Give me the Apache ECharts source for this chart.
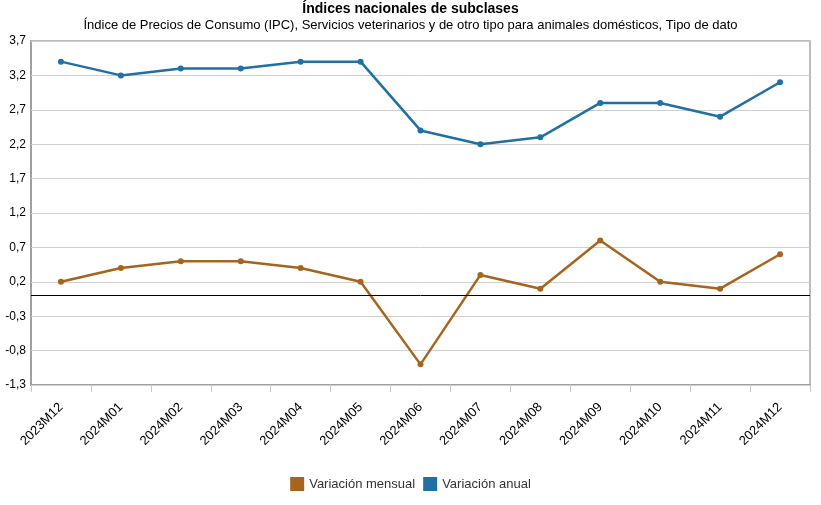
<!DOCTYPE html>
<html><head><meta charset="utf-8">
<script src="https://cdn.jsdelivr.net/npm/echarts@6/dist/echarts.min.js"></script>
<style>html,body{margin:0;padding:0;background:#fff}#c{width:821px;height:505px}</style>
</head><body><div id="c"></div>
<script>
var categories = ['2023M12','2024M01','2024M02','2024M03','2024M04','2024M05','2024M06','2024M07','2024M08','2024M09','2024M10','2024M11','2024M12'];
var mensual = [0.2, 0.4, 0.5, 0.5, 0.4, 0.2, -1.0, 0.3, 0.1, 0.8, 0.2, 0.1, 0.6];
var anual = [3.4, 3.2, 3.3, 3.3, 3.4, 3.4, 2.4, 2.2, 2.3, 2.8, 2.8, 2.6, 3.1];
var yTicks = [-1.3, -0.8, -0.3, 0.2, 0.7, 1.2, 1.7, 2.2, 2.7, 3.2, 3.7];
var zeroLine = [0];

var chart = echarts.init(document.getElementById('c'), null, {renderer:'canvas'});
var font = '"Liberation Sans", Arial, sans-serif';
chart.setOption({
  animation: false,
  textStyle: {fontFamily: font},
  title: {
    text: 'Índices nacionales de subclases',
    subtext: 'Índice de Precios de Consumo (IPC), Servicios veterinarios y de otro tipo para animales domésticos, Tipo de dato',
    left: 'center', top: -3, itemGap: 3,
    textStyle: {fontSize: 14, fontWeight: 'bold', color: '#000', fontFamily: font},
    subtextStyle: {fontSize: 13, color: '#000', fontFamily: font}
  },
  legend: {
    bottom: 9, left: 'center', icon: 'rect', itemWidth: 14, itemHeight: 14, itemGap: 8,
    textStyle: {fontSize: 13, color: '#333', fontFamily: font},
    data: ['Variación mensual', 'Variación anual']
  },
  grid: {left: 31, right: 11, top: 41, bottom: 120, show: true, borderColor: '#a8a8a8', borderWidth: 1.5},
  xAxis: {
    type: 'category', data: categories, boundaryGap: true,
    axisLine: {onZero: false, lineStyle: {color: '#a0a0a0', width: 2}},
    axisTick: {show: true, length: 7, lineStyle: {color: '#c8c8c8'}},
    axisLabel: {rotate: 45, fontSize: 13, color: '#000', margin: 20, fontFamily: font},
    splitLine: {show: false}
  },
  yAxis: {
    type: 'value', min: -1.3, max: 3.7,
    axisLine: {show: true, lineStyle: {color: '#a0a0a0', width: 2}},
    axisTick: {show: false},
    splitLine: {show: false},
    axisLabel: {
      customValues: yTicks, fontSize: 12, color: '#000', margin: 5, fontFamily: font,
      formatter: function (v) { return v.toFixed(1).replace('.', ','); }
    }
  },
  series: [
    {
      name: 'Variación mensual', type: 'line', data: mensual,
      color: '#a5651e', symbol: 'circle', symbolSize: 6,
      lineStyle: {width: 2.5, color: '#a5651e'}, itemStyle: {color: '#a5651e'},
      z: 3,
      markLine: {
        silent: true, symbol: 'none', label: {show: false},
        lineStyle: {color: '#000', width: 1, type: 'solid'},
        data: zeroLine.map(function (v) { return {yAxis: v}; })
      }
    },
    {
      name: 'Variación anual', type: 'line', data: anual,
      color: '#1f70a3', symbol: 'circle', symbolSize: 6,
      lineStyle: {width: 2.5, color: '#1f70a3'}, itemStyle: {color: '#1f70a3'},
      z: 3,
      markLine: {
        silent: true, symbol: 'none', label: {show: false}, z: 1,
        lineStyle: {color: '#d0d0d0', width: 1, type: 'solid'},
        data: yTicks.map(function (v) { return {yAxis: v}; })
      }
    }
  ]
});
</script></body></html>
